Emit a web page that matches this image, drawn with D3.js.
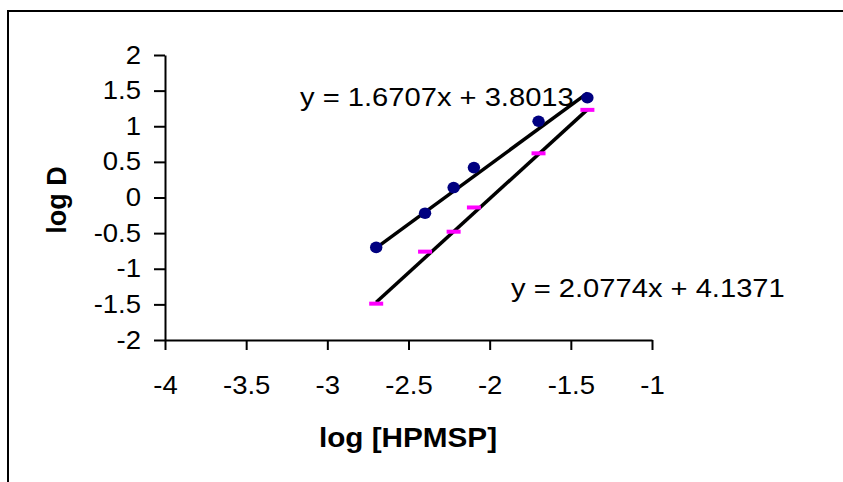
<!DOCTYPE html>
<html>
<head>
<meta charset="utf-8">
<script src="https://cdn.jsdelivr.net/npm/d3@7"></script>
<style>
  html, body { margin: 0; padding: 0; background: #fff; }
  svg { display: block; font-family: Arial, "Liberation Sans", sans-serif; }
  .sx { transform-box: fill-box; transform: scaleX(1.1); }
</style>
</head>
<body>
<svg id="chart" width="843" height="482"></svg>
<script>
// log [HPMSP] for both series
const logC = [-2.699, -2.398, -2.222, -2.097, -1.699, -1.398];
// first series (navy dots) and second series (magenta dashes)
const logD1 = [-0.70, -0.22, 0.14, 0.42, 1.07, 1.40];
const logD2 = [-1.49, -0.76, -0.48, -0.14, 0.62, 1.23];
// trendline coefficients as printed on the chart
const fit1 = { m: 1.6707, b: 3.8013, label: "y = 1.6707x + 3.8013" };
const fit2 = { m: 2.0774, b: 4.1371, label: "y = 2.0774x + 4.1371" };
const xTicks = [-4, -3.5, -3, -2.5, -2, -1.5, -1];
const yTicks = [-2, -1.5, -1, -0.5, 0, 0.5, 1, 1.5, 2];

const svg = d3.select("#chart");

// outer frame (runs off the right and bottom edge)
svg.append("rect")
  .attr("x", 8).attr("y", 11)
  .attr("width", 900).attr("height", 500)
  .attr("fill", "none").attr("stroke", "#000").attr("stroke-width", 2);

const x = d3.scaleLinear().domain([-4, -1]).range([165, 652]);
const y = d3.scaleLinear().domain([-2, 2]).range([340, 55]);

// axes
const xAxis = svg.append("g")
  .attr("transform", "translate(0,340)")
  .call(d3.axisBottom(x).tickValues(xTicks).tickFormat(d => String(d))
    .tickSize(10).tickSizeOuter(0));
const yAxis = svg.append("g")
  .attr("transform", "translate(165,0)")
  .call(d3.axisLeft(y).tickValues(yTicks).tickFormat(d => String(d))
    .tickSize(11).tickSizeOuter(0).tickPadding(13));

[xAxis, yAxis].forEach(g => {
  g.select(".domain").attr("stroke", "#000").attr("stroke-width", 2);
  g.selectAll(".tick line").attr("stroke", "#000").attr("stroke-width", 2);
  g.selectAll(".tick text")
    .attr("fill", "#000")
    .style("font-size", "25px")
    .attr("class", "sx");
});
xAxis.selectAll(".tick text").attr("y", 54).attr("dy", 0)
  .style("transform-origin", "center");
yAxis.selectAll(".tick text").style("transform-origin", "right center");

// trendlines
[[fit1, logC], [fit2, logC]].forEach(([f, xs]) => {
  const x0 = d3.min(xs), x1 = d3.max(xs);
  svg.append("line")
    .attr("x1", x(x0)).attr("y1", y(f.m * x0 + f.b))
    .attr("x2", x(x1)).attr("y2", y(f.m * x1 + f.b))
    .attr("stroke", "#000").attr("stroke-width", 3.5);
});

// series 1: navy dots
svg.append("g").selectAll("ellipse")
  .data(logC.map((c, i) => [c, logD1[i]]))
  .join("ellipse")
    .attr("cx", d => x(d[0]))
    .attr("cy", d => y(d[1]))
    .attr("rx", 6.2).attr("ry", 5.8)
    .attr("fill", "#000080");

// series 2: magenta dashes
svg.append("g").selectAll("rect")
  .data(logC.map((c, i) => [c, logD2[i]]))
  .join("rect")
    .attr("x", d => x(d[0]) - 7)
    .attr("y", d => y(d[1]) - 2)
    .attr("width", 14).attr("height", 4)
    .attr("fill", "#ff00ff");

// equation labels
svg.append("text")
  .attr("x", 300).attr("y", 106)
  .attr("class", "sx").style("transform-origin", "left center")
  .style("font-size", "26.5px")
  .text(fit1.label);
svg.append("text")
  .attr("x", 511).attr("y", 297)
  .attr("class", "sx").style("transform-origin", "left center")
  .style("font-size", "26.5px")
  .text(fit2.label);

// axis titles
svg.append("text")
  .attr("x", 408).attr("y", 447)
  .attr("text-anchor", "middle")
  .attr("class", "sx").style("transform-origin", "center")
  .style("font-size", "27px").style("font-weight", "bold")
  .text("log [HPMSP]");
svg.append("text")
  .attr("transform", "translate(66,200) rotate(-90)")
  .attr("text-anchor", "middle")
  .style("font-size", "27px").style("font-weight", "bold")
  .text("log D");
</script>
</body>
</html>
